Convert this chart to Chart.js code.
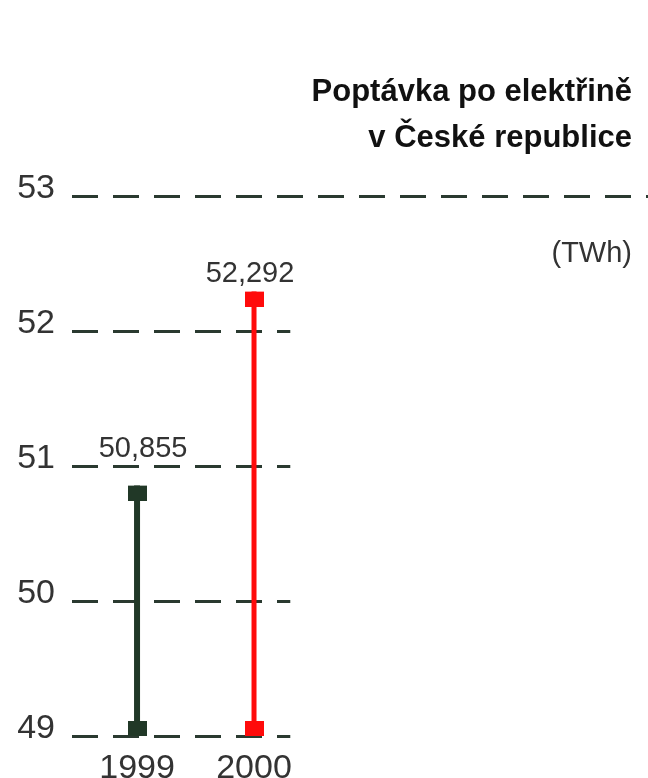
<!DOCTYPE html>
<html>
<head>
<meta charset="utf-8">
<script src="https://cdn.jsdelivr.net/npm/chart.js@4/dist/chart.umd.min.js"></script>
<style>
  html, body { margin: 0; padding: 0; background: #fff; }
  #wrap { width: 648px; height: 778px; }
</style>
</head>
<body>
<div id="wrap"><canvas id="chart" width="648" height="778"></canvas></div>
<script>
// data
const years = [1999, 2000];
const demand = [50.855, 52.292];
const demandLabels = ["50,855", "52,292"];
const baseValue = 49;
const yTicks = [49, 50, 51, 52, 53];
const titleLines = ["Poptávka po elektřině", "v České republice"];
const unitLabel = "(TWh)";
const seriesColors = ["#213827", "#ff0b0b"];

const FONT = "'Liberation Sans', Arial, sans-serif";

// square marker that sits inside the stem (above or below the point)
function makeMarker(color, below) {
    const c = document.createElement("canvas");
    c.width = 19;
    c.height = 30;
    const ctx = c.getContext("2d");
    ctx.fillStyle = color;
    if (below) ctx.fillRect(0, 15, 19, 15);
    else ctx.fillRect(0, 0, 19, 15);
    return c;
}

const datasets = years.map((yr, i) => ({
    label: String(yr),
    data: [{x: yr, y: baseValue}, {x: yr, y: demand[i]}],
    borderColor: seriesColors[i],
    borderWidth: i === 0 ? 6 : 5,
    pointStyle: [makeMarker(seriesColors[i], false), makeMarker(seriesColors[i], true)],
    pointRadius: 10,
    showLine: true
}));

const decorPlugin = {
    id: "decor",
    beforeDatasetsDraw(chart) {
        const {ctx, chartArea, scales} = chart;
        const y = scales.y, x = scales.x;
        ctx.save();
        ctx.strokeStyle = "#2a3a30";
        ctx.lineWidth = 3;
        ctx.setLineDash([26, 15]);
        yTicks.forEach(v => {
            const py = Math.round(y.getPixelForValue(v)) + 0.5;
            const end = v === yTicks[yTicks.length - 1] ? chartArea.right : x.getPixelForValue(2000.31);
            ctx.beginPath();
            ctx.moveTo(chartArea.left, py);
            ctx.lineTo(end, py);
            ctx.stroke();
        });
        ctx.restore();

        // y tick labels, sitting a little above their lines
        ctx.save();
        ctx.fillStyle = "#333";
        ctx.font = "34px " + FONT;
        ctx.textAlign = "right";
        ctx.textBaseline = "middle";
        yTicks.forEach(v => {
            ctx.fillText(String(v), chartArea.left - 17, y.getPixelForValue(v) - 7);
        });
        ctx.restore();
    },
    afterDatasetsDraw(chart) {
        const {ctx, scales} = chart;
        ctx.save();
        ctx.fillStyle = "#333";
        ctx.font = "29px " + FONT;
        ctx.textAlign = "center";
        ctx.textBaseline = "alphabetic";
        const shiftX = [6, -4];
        const shiftY = [-29, -10];
        years.forEach((yr, i) => {
            const px = scales.x.getPixelForValue(yr) + shiftX[i];
            const py = scales.y.getPixelForValue(demand[i]) + shiftY[i];
            ctx.fillText(demandLabels[i], px, py);
        });

        ctx.fillStyle = "#111";
        ctx.textAlign = "right";
        ctx.font = "bold 31px " + FONT;
        ctx.fillText(titleLines[0], 632, 101);
        ctx.fillText(titleLines[1], 632, 147);
        ctx.fillStyle = "#333";
        ctx.font = "29px " + FONT;
        ctx.fillText(unitLabel, 632, 262);
        ctx.restore();
    }
};

new Chart(document.getElementById("chart").getContext("2d"), {
    type: "scatter",
    data: {datasets: datasets},
    plugins: [decorPlugin],
    options: {
        responsive: false,
        animation: false,
        layout: {autoPadding: false, padding: {top: 196, right: 0, left: 0, bottom: 0}},
        plugins: {
            legend: {display: false},
            tooltip: {enabled: false}
        },
        scales: {
            x: {
                type: "linear",
                min: 1998.444,
                max: 2003.368,
                grid: {display: false},
                border: {display: false},
                afterBuildTicks: (scale) => { scale.ticks = years.map(v => ({value: v})); },
                afterFit: (scale) => {
                    scale.height = 42;
                    scale.paddingLeft = 0;
                    scale.paddingRight = 0;
                },
                ticks: {
                    padding: 4,
                    color: "#333",
                    font: {family: FONT, size: 34},
                    callback: (v) => String(v),
                    maxRotation: 0,
                    autoSkip: false
                }
            },
            y: {
                min: yTicks[0],
                max: yTicks[yTicks.length - 1],
                grid: {display: false, drawTicks: false},
                border: {display: false},
                afterBuildTicks: (scale) => { scale.ticks = yTicks.map(v => ({value: v})); },
                afterFit: (scale) => {
                    scale.width = 72;
                    scale.paddingTop = 0;
                    scale.paddingBottom = 0;
                },
                ticks: {display: false}
            }
        }
    }
});
</script>
</body>
</html>
